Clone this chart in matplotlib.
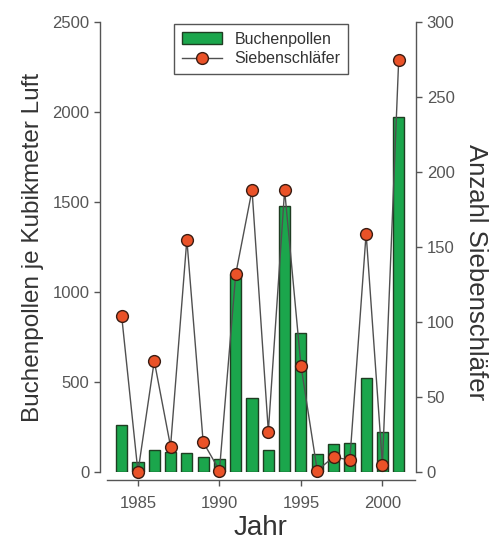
import matplotlib
matplotlib.use("Agg")
import matplotlib.pyplot as plt

plt.rcParams['font.family'] = ['Liberation Sans', 'DejaVu Sans']

# data
jahre = [1984, 1985, 1986, 1987, 1988, 1989, 1990, 1991, 1992,
         1993, 1994, 1995, 1996, 1997, 1998, 1999, 2000, 2001]
buchenpollen = [260, 55, 120, 110, 105, 85, 72, 1100, 410,
                120, 1480, 770, 100, 155, 160, 520, 225, 1970]
siebenschlaefer = [104, 0, 74, 17, 155, 20, 1, 132, 188,
                   27, 188, 71, 1, 10, 8, 159, 5, 275]
x_ticks = [1985, 1990, 1995, 2000]

grau = '#555555'

fig = plt.figure(figsize=(4.93, 5.48), dpi=100)
ax = fig.add_axes([107/493, (548-472)/548, (415-107)/493, 450/548])
ax2 = ax.twinx()

# bars
bars = ax.bar(jahre, buchenpollen, width=0.68, color='#1ba64c',
              edgecolor='#1f3d22', linewidth=1.0, label='Buchenpollen', zorder=2)
ax.set_ylim(0, 2500)
ax.set_xlim(1983.1, 2002.0)
ax.set_yticks(range(0, 2501, 500))
ax.set_xticks(x_ticks)

# line + markers
line, = ax2.plot(jahre, siebenschlaefer, color='#505050', linewidth=1.0,
                 marker='o', markersize=8.5, markerfacecolor='#ea5228',
                 markeredgecolor='#3a1c12', markeredgewidth=1.0,
                 label='Siebenschläfer', clip_on=False)
ax2.set_ylim(0, 300)
ax2.set_yticks(range(0, 301, 50))

# axis styling (detached spines)
for a in (ax, ax2):
    a.spines['top'].set_visible(False)
    for s in a.spines.values():
        s.set_color(grau)
        s.set_linewidth(1.0)
ax.spines['right'].set_visible(False)
ax2.spines['left'].set_visible(False)
ax2.spines['bottom'].set_visible(False)
ax.spines['left'].set_position(('outward', 5))
ax.spines['bottom'].set_position(('outward', 6))
ax2.spines['right'].set_position(('outward', 1))

ax.tick_params(axis='both', colors=grau, labelsize=12, length=4, width=1)
ax.tick_params(axis='x', pad=7)
ax2.tick_params(axis='y', colors=grau, labelsize=12, length=4, width=1)

ax.set_ylabel('Buchenpollen je Kubikmeter Luft', fontsize=17.5, color='#333333', labelpad=6)
ax2.set_ylabel('Anzahl Siebenschläfer', fontsize=18.5, color='#333333',
               rotation=270, labelpad=24)
ax2.yaxis.label.set_y(0.445)
ax.set_xlabel('Jahr', fontsize=20, color='#333333', labelpad=3)

ax2.legend([bars, line], ['Buchenpollen', 'Siebenschläfer'], loc='upper center',
           bbox_to_anchor=(0.5, 1.0), borderaxespad=0.1, fontsize=11.5,
           fancybox=False, edgecolor=grau, framealpha=1, handlelength=2.5,
           borderpad=0.5, labelspacing=0.3, labelcolor='#333333')

plt.savefig('out.png', dpi=100)
